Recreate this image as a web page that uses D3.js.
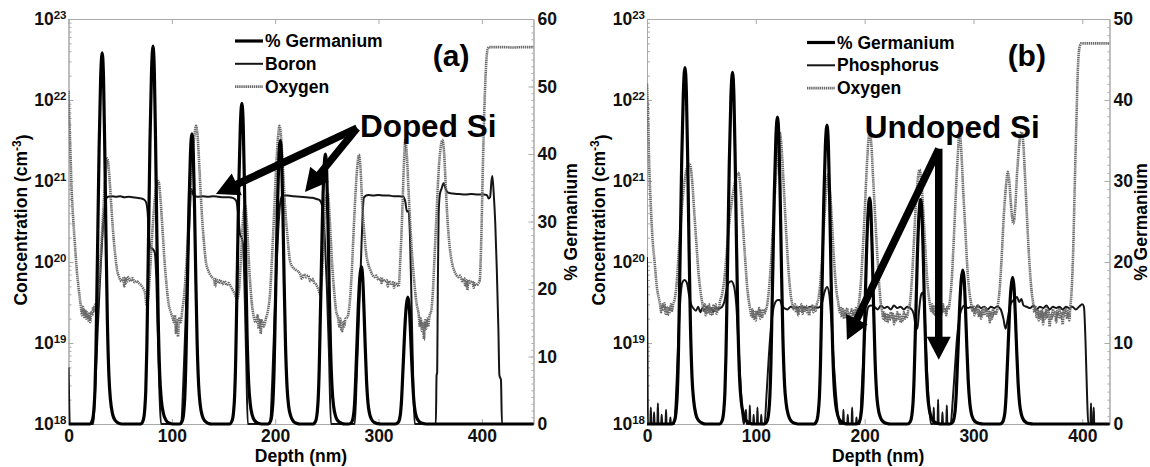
<!DOCTYPE html>
<html><head><meta charset="utf-8">
<script src="https://cdn.jsdelivr.net/npm/d3@7"></script>
<style>
body{margin:0;background:#fff}
svg{display:block}
text{font-family:"Liberation Sans",Arial,Helvetica,sans-serif;font-weight:bold}
</style></head>
<body><svg id="c" width="1150" height="467"></svg>
<script>
// ---------------- DATA ----------------
const X_TICKS=[0,100,200,300,400];
const DECADES=[1e18,1e19,1e20,1e21,1e22,1e23];
const PCT_TICKS_A=[0,10,20,30,40,50,60];
const PCT_TICKS_B=[0,10,20,30,40,50];
const LEGEND_A=["% Germanium","Boron","Oxygen"];
const LEGEND_B=["% Germanium","Phosphorus","Oxygen"];
const AXIS_TITLES=["Depth (nm)","Concentration (cm","-3",")","% Germanium"];

// (a) % Germanium [depth nm, %]
const GE_A=[[0,0],[20.6,0],[23.1,0.55],[24.6,2.2],[25.6,5],[26.6,11],[27.4,18.7],[28.4,28.6],[29.6,40.7],[31.1,51.2],[32.6,55],[33.9,51.2],[35.1,40.7],[36.3,27.5],[37.6,15.4],[39.1,7.2],[40.6,3.6],[42.6,1.5],[45.1,0.55],[48.6,0.1],[51.6,0],
[69.8,0],[72.3,0.56],[73.8,2.2],[74.8,5],[75.8,11.2],[76.6,19],[77.6,29],[78.8,41.4],[80.3,52],[81.8,56],[83.1,52],[84.3,41.4],[85.5,28],[86.8,15.7],[88.3,7.3],[89.8,3.6],[91.8,1.6],[94.3,0.56],[97.8,0.1],[100.8,0],
[107.5,0],[110,0.43],[111.5,1.7],[112.5,3.9],[113.5,8.6],[114.3,14.6],[115.3,22.4],[116.5,31.8],[118,40],[119.5,43],[120.8,40],[122,31.8],[123.2,21.5],[124.5,12],[126,5.6],[127.5,2.8],[129.5,1.2],[132,0.43],[135.5,0.09],[138.5,0],
[155.8,0],[158.3,0.48],[159.8,1.9],[160.8,4.3],[161.8,9.5],[162.6,16.2],[163.6,24.7],[164.8,35.2],[166.3,44.2],[167.8,47.5],[169.1,44.2],[170.3,35.2],[171.5,23.8],[172.8,13.3],[174.3,6.2],[175.8,3.1],[177.8,1.3],[180.3,0.48],[183.8,0.1],[186.8,0],
[193,0],[195.5,0.42],[197,1.7],[198,3.8],[199,8.4],[199.8,14.3],[200.8,21.8],[202,31.1],[203.5,39],[205,42],[206.3,39],[207.5,31.1],[208.7,21],[210,11.8],[211.5,5.5],[213,2.7],[215,1.2],[217.5,0.42],[221,0.08],[224,0],
[236.6,0],[239.1,0.4],[240.6,1.6],[241.6,3.6],[242.6,8],[243.4,13.6],[244.4,20.8],[245.6,29.6],[247.1,37.2],[248.6,40],[249.9,37.2],[251.1,29.6],[252.3,20],[253.6,11.2],[255.1,5.2],[256.6,2.6],[258.6,1.1],[261.1,0.4],[264.6,0.08],[267.6,0],
[271.4,0],[273.9,0.23],[275.4,0.93],[276.4,2.1],[277.4,4.7],[278.2,7.9],[279.2,12.1],[280.4,17.2],[281.9,21.7],[283.4,23.3],[284.7,21.7],[285.9,17.2],[287.1,11.7],[288.4,6.5],[289.9,3],[291.4,1.5],[293.4,0.65],[295.9,0.23],[299.4,0.05],[302.4,0],
[316.4,0],[318.9,0.19],[320.4,0.75],[321.4,1.7],[322.4,3.8],[323.2,6.4],[324.2,9.8],[325.4,13.9],[326.9,17.5],[328.4,18.8],[329.7,17.5],[330.9,13.9],[332.1,9.4],[333.4,5.3],[334.9,2.4],[336.4,1.2],[338.4,0.53],[340.9,0.19],[344.4,0.04],[347.4,0],[450,0]];

// (a) Boron [depth nm, cm^-3]
const BORON_A=[[0,5e18],[0.6,2e18],[1.2,1e18],[24,1e18],[26,3e18],[28,1.2e19],[30,4.5e19],[32,1.4e20],[34,3.5e20],[36,5.8e20],[38,6.4e20],[42,6.5e20],[46,6.4e20],[50,6.5e20],[54,6.3e20],[58,6.4e20],[62,6.3e20],[66,6.2e20],[70,6.1e20],[73,5.9e20],[75,5.5e20],[76.5,4.2e20],[78,2e20],[79.5,1.5e20],[81.5,1.45e20],[83.5,1.3e20],[85,6e19],[86.5,1.2e19],[88,2.5e18],[89.5,1e18],
[109,1e18],[111,3e18],[113,1.5e19],[115,8e19],[117,3e20],[118.8,8e20],[120.3,7e20],[121.5,6.6e20],[125,6.4e20],[130,6.5e20],[135,6.4e20],[140,6.5e20],[145,6.4e20],[150,6.3e20],[155,6.3e20],[160,6.1e20],[162.5,5.6e20],[164.5,3.5e20],[166,2.2e20],[167.5,2e20],[169,1.6e20],[170.5,4e19],[172,6e18],[173.5,1e18],
[195,1e18],[197,3e18],[199,1.5e19],[201,7e19],[203,2.5e20],[205,5.5e20],[207,6.6e20],[212,6.6e20],[218,6.5e20],[224,6.4e20],[230,6.3e20],[236,6.2e20],[240,6e20],[243,5.8e20],[245,5.2e20],[246.5,4e20],[248,2e20],[250,5e19],[252,8e18],[254,1e18],
[277,1e18],[279,4e18],[281,2e19],[283,1e20],[284.5,3.5e20],[286,6.3e20],[290,6.7e20],[295,6.6e20],[300,6.7e20],[305,6.6e20],[310,6.6e20],[315,6.5e20],[320,6.5e20],[324,6.4e20],[326,5.5e20],[327.5,4.2e20],[329,4.3e20],[330.5,2e20],[332,3e19],[333.5,4e18],[335,1e18],
[355.5,1e18],[356.2,4e18],[356.8,4.3e18],[357.4,5e19],[358.2,4e20],[359.5,7e20],[361,8e20],[363,9.4e20],[365,8e20],[367,7.2e20],[372,7e20],[378,6.9e20],[384,6.8e20],[390,6.9e20],[396,6.8e20],[402,6.8e20],[405,6.7e20],[406.5,6.1e20],[408,6.3e20],[409.3,1e21],[410.2,1.15e21],[411.5,7e20],[413,3e20],[414.5,8e19],[416,1.5e19],[417,4e18],[418.5,3.5e18],[419.5,1e18],[450,1e18]];

// (a) Oxygen [depth nm, cm^-3]
const OXYGEN_A=[[0,1.3e22],[1,5e21],[2,2e21],[3,8e20],[4.5,3.5e20],[6,1.8e20],[8,8e19],[10,4.5e19],[12,2.8e19],[13,2.2e19],[14,2.8e19],[15,2.1e19],[16,2.6e19],[17,2e19],[18,2.4e19],[19,1.9e19],[20,2.3e19],[21,1.8e19],[22,2.4e19],[23,2.2e19],[24,2.8e19],[25,2.4e19],[26,3e19],[27,2.8e19],[28.5,4e19],[30,7e19],[32,1.8e20],[34,5e20],[36,1.3e21],[37.5,1.9e21],[39,1.4e21],[41,6e20],[43,2.5e20],[45,1.3e20],[47,8e19],[49,6.5e19],[51,5.8e19],[53,6.3e19],[54,5e19],[55,6.5e19],[56,5.5e19],[58,6.5e19],[60,5.8e19],[62,6.3e19],[64,5.6e19],[66,5.8e19],[68,5.5e19],[70,5.2e19],[72,4.8e19],[74,4.2e19],[75.5,3e19],[77,3.5e19],[79,8e19],[81,2.2e20],[83,5e20],[85,8.5e20],[87,1e21],[89,6e20],[91,2.5e20],[93,1e20],[95,5e19],[97,3e19],[99,2.4e19],[101,2e19],[102,1.8e19],[103,2.2e19],[104,1.3e19],[105,1.9e19],[106,1.2e19],[107,2e19],[108.5,1.8e19],[110,2.5e19],[112,4e19],[114,9e19],[116,2.5e20],[118,8e20],[120,2e21],[122,3.8e21],[123.5,4.8e21],[125,3.5e21],[127,1.2e21],[129,4e20],[131,1.8e20],[133,1e20],[135,8e19],[137,7e19],[139,6.5e19],[141,6e19],[142,5e19],[143,6.2e19],[145,5.5e19],[147,6e19],[149,5.3e19],[151,5.8e19],[153,5.2e19],[155,5.5e19],[157,5e19],[159,4.5e19],[161,4e19],[163,3.5e19],[165,4.5e19],[167,1.2e20],[169,3.5e20],[171,5e20],[173,2.5e20],[175,8e19],[177,3.5e19],[179,2.2e19],[181,1.8e19],[183,2.2e19],[184,1.5e19],[185,2e19],[186,1.3e19],[187,1.9e19],[189,1.6e19],[191,2e19],[193,2.5e19],[195,4e19],[197,1.2e20],[199,4e20],[201,1.5e21],[202.8,3.5e21],[204.2,4.8e21],[205.7,3.5e21],[207.5,1.5e21],[209.5,5e20],[212,2e20],[214,1.1e20],[216,9e19],[220,8e19],[224,7.2e19],[226,6.2e19],[228,7e19],[230,6.5e19],[232,6.8e19],[234,5.8e19],[236,6.2e19],[238,5.5e19],[240,5.2e19],[242,4.5e19],[243.5,4e19],[245,6e19],[247,2e20],[249,6e20],[251,7e20],[253,3e20],[255,1e20],[257,4.5e19],[259,2.5e19],[261,2e19],[262,1.6e19],[263,2e19],[264,1.5e19],[265,1.4e19],[266,1.8e19],[267,1.6e19],[268,2e19],[270,2.1e19],[272,3e19],[274,7e19],[276,2.5e20],[278,8e20],[279.5,1.5e21],[281,2.1e21],[282.5,1.5e21],[284,6e20],[286,2.5e20],[288,1.3e20],[290,9.5e19],[292,8e19],[294,7e19],[296,6.5e19],[298,6.8e19],[300,6e19],[302,6.3e19],[303,5.5e19],[304,6.2e19],[306,5.8e19],[308,6e19],[309,5e19],[310,5.8e19],[312,5.4e19],[314,5.6e19],[315,4.8e19],[316,5.5e19],[318,5.3e19],[319.5,5e19],[321,1e20],[323,4e20],[324.5,1.5e21],[326,3.2e21],[327.5,2e21],[329,8e20],[331,2.5e20],[333,1e20],[335,5e19],[337,3e19],[339,2.2e19],[340,1.6e19],[341,2e19],[342,1.4e19],[343,1.8e19],[344,1.1e19],[345,1.9e19],[346,1.5e19],[347,2e19],[348,1.6e19],[349.5,2.2e19],[351,2.5e19],[352.5,4e19],[354,1e20],[356,3.5e20],[358,1.2e21],[360,2.5e21],[361.8,3.2e21],[363.5,2.2e21],[365,9e20],[367,3e20],[369,1.5e20],[371,1e20],[373,8e19],[375,7e19],[377,6.5e19],[379,6.8e19],[381,5.8e19],[383,6.3e19],[384,5e19],[385,6e19],[386,4.5e19],[387,6e19],[389,5.5e19],[391,5.8e19],[392,4.8e19],[393,5.5e19],[395,5.2e19],[396.5,5.4e19],[398,6e19],[399.5,2e20],[401,1.5e21],[402.5,8e21],[404,2.5e22],[405.5,4.2e22],[407,4.5e22],[420,4.5e22],[430,4.45e22],[440,4.5e22],[450,4.5e22]];

// (b) % Germanium [depth nm, %]
const GE_B=[[0,0],[22.9,0],[25.4,0.44],[26.9,1.8],[27.9,4],[28.9,8.8],[29.7,15],[30.7,22.9],[31.9,32.6],[33.4,40.9],[34.9,44],[36.2,40.9],[37.4,32.6],[38.6,22],[39.9,12.3],[41.4,5.7],[42.9,2.9],[44.9,1.2],[47.4,0.44],[50.9,0.09],[53.9,0],
[66.6,0],[69.1,0.43],[70.6,1.7],[71.6,3.9],[72.6,8.7],[73.4,14.8],[74.4,22.6],[75.6,32.1],[77.1,40.4],[78.6,43.4],[79.9,40.4],[81.1,32.1],[82.3,21.7],[83.6,12.2],[85.1,5.6],[86.6,2.8],[88.6,1.2],[91.1,0.43],[94.6,0.09],[97.6,0],
[107.9,0],[110.4,0.38],[111.9,1.5],[112.9,3.4],[113.9,7.6],[114.7,12.9],[115.7,19.7],[116.9,28],[118.4,35.2],[119.9,37.9],[121.2,35.2],[122.4,28],[123.6,19],[124.9,10.6],[126.4,4.9],[127.9,2.5],[129.9,1.1],[132.4,0.38],[135.9,0.08],[138.9,0],
[153.4,0],[155.9,0.37],[157.4,1.5],[158.4,3.3],[159.4,7.4],[160.2,12.5],[161.2,19.2],[162.4,27.3],[163.9,34.3],[165.4,36.9],[166.7,34.3],[167.9,27.3],[169.1,18.5],[170.4,10.3],[171.9,4.8],[173.4,2.4],[175.4,1],[177.9,0.37],[181.4,0.07],[184.4,0],
[192.6,0],[195.1,0.28],[196.6,1.1],[197.6,2.5],[198.6,5.6],[199.4,9.5],[200.4,14.5],[201.6,20.6],[203.1,25.9],[204.6,27.9],[205.9,25.9],[207.1,20.6],[208.3,14],[209.6,7.8],[211.1,3.6],[212.6,1.8],[214.6,0.78],[217.1,0.28],[220.6,0.06],[223.6,0],
[239.4,0],[241.9,0.28],[243.4,1.1],[244.4,2.5],[245.4,5.5],[246.2,9.4],[247.2,14.4],[248.4,20.5],[249.9,25.8],[251.4,27.7],[252.7,25.8],[253.9,20.5],[255.1,13.9],[256.4,7.8],[257.9,3.6],[259.4,1.8],[261.4,0.78],[263.9,0.28],[267.4,0.06],[270.4,0],
[278.2,0],[280.7,0.19],[282.2,0.76],[283.2,1.7],[284.2,3.8],[285,6.5],[286,9.9],[287.2,14.1],[288.7,17.7],[290.2,19],[291.5,17.7],[292.7,14.1],[293.9,9.5],[295.2,5.3],[296.7,2.5],[298.2,1.2],[300.2,0.53],[302.7,0.19],[306.2,0.04],[309.2,0],
[324,0],[326.5,0.18],[328,0.72],[329,1.6],[330,3.6],[330.8,6.2],[331.8,9.4],[333,13.4],[334.5,16.8],[336,18.1],[337.3,16.8],[338.5,13.4],[339.7,9.1],[341,5.1],[342.5,2.4],[344,1.2],[346,0.51],[348.5,0.18],[352,0.04],[355,0],[425,0]];

// (b) Phosphorus [depth nm, cm^-3]
const PHOS_B=[[0,1.15e20],[0.4,1e19],[0.8,1e18],[3,1e18],[3.5,1.6e18],[4,1e18],[6,1e18],[6.5,1.4e18],[7,1e18],[9.5,1e18],[10,1.8e18],[10.5,1e18],[13,1e18],[13.5,1.3e18],[14,1e18],[17,1e18],[17.5,1.5e18],[18,1e18],[21,1e18],[21.5,1.2e18],[22,1e18],[25,1e18],[26.5,2e18],[28,6e18],[29.5,1.8e19],[31,4e19],[32.5,5.6e19],[34.5,6e19],[36.5,5.6e19],[38.5,4e19],[40.5,3e19],[42.5,2.7e19],[45,2.5e19],[47,2.8e19],[49,2.4e19],[51,2.7e19],[53,2.5e19],[55,2.8e19],[57,2.5e19],[59,2.7e19],[61,2.4e19],[63,2.8e19],[65,2.6e19],[67,2.7e19],[69,2.8e19],[71,3.2e19],[73,4.5e19],[75,5.5e19],[77.5,5.8e19],[80,5e19],[82,3e19],[84,1e19],[86,3e18],[88,1.2e18],[89,1e18],[91,1.5e18],[91.5,1e18],[94,1e18],[94.5,1.7e18],[95,1e18],[97.5,1e18],[98,1.3e18],[98.5,1e18],[101,1e18],[101.5,1.6e18],[102,1e18],[104.5,1e18],[105,1.3e18],[105.5,1e18],[108,1e18],[110,2.5e18],[112,7e18],[114,1.6e19],[116,2.6e19],[118,3.2e19],[120,3.4e19],[122,3.4e19],[124,2.9e19],[126,2.7e19],[129,2.6e19],[132,2.8e19],[135,2.7e19],[138,2.7e19],[141,2.8e19],[144,2.7e19],[147,2.7e19],[150,2.8e19],[153,2.7e19],[156,2.7e19],[159,2.8e19],[161,3.2e19],[163,4.2e19],[165.5,4.9e19],[167.5,4e19],[169.5,1.8e19],[171.5,6e18],[173.5,2.5e18],[175.5,1.3e18],[177,1e18],[180,1e18],[180.5,1.5e18],[181,1e18],[184,1e18],[184.5,1.3e18],[185,1e18],[188,1e18],[188.5,1.6e18],[189,1e18],[192,1e18],[192.5,1.2e18],[193,1e18],[195.5,1e18],[197.5,3e18],[199.5,9e18],[201.5,2e19],[203.5,2.8e19],[206,2.9e19],[209,2.8e19],[212,2.6e19],[215,2.9e19],[218,2.7e19],[221,2.8e19],[224,2.6e19],[227,2.9e19],[230,2.7e19],[233,2.8e19],[236,2.6e19],[239,2.8e19],[242,2.7e19],[245,2.3e19],[247,1.6e19],[248.5,1.5e19],[250,2.5e19],[252,4e19],[253.5,4.2e19],[255,2.5e19],[256.5,8e18],[258,3e18],[259.5,1.5e18],[261,1e18],[263,1e18],[263.5,1.6e18],[264,1e18],[267,1e18],[267.5,2e18],[268,1e18],[271,1e18],[271.5,1.4e18],[272,1e18],[275,1e18],[275.5,1.7e18],[276,1e18],[279,1e18],[281,2e18],[283,5e18],[285,1.2e19],[287,2e19],[289,2.6e19],[292,2.9e19],[295,2.7e19],[298,2.8e19],[301,2.6e19],[304,2.9e19],[307,2.7e19],[310,2.8e19],[313,2.6e19],[316,2.8e19],[319,2.7e19],[322,2.8e19],[325,2.6e19],[327.5,2e19],[329.5,1.5e19],[331.5,2e19],[334,3e19],[337,3.4e19],[340,3.7e19],[342,3.2e19],[344,3.5e19],[346,2.9e19],[349,2.8e19],[352,2.7e19],[355,2.9e19],[358,2.6e19],[361,2.8e19],[364,2.7e19],[367,2.9e19],[370,2.6e19],[373,2.8e19],[376,2.7e19],[379,2.8e19],[382,2.6e19],[385,2.8e19],[388,2.7e19],[391,2.8e19],[394,2.6e19],[397,2.8e19],[400,3e19],[401.5,2.8e19],[403,1e19],[404.5,2e18],[405.5,1e18],[407.5,1e18],[408,1.8e18],[408.5,1e18],[410,1e18],[410.5,1.6e18],[411,1e18],[425,1e18]];

// (b) Oxygen [depth nm, cm^-3]
const OXYGEN_B=[[0,1.6e22],[1,6e21],[2,1.6e21],[3.5,5e20],[5,2e20],[7,1e20],[9,5e19],[11,3.5e19],[12,3e19],[13,2.4e19],[14,3e19],[15,2.6e19],[16,3.1e19],[17,2.3e19],[18,2.8e19],[19,2.2e19],[20,2.7e19],[21,2.4e19],[22,3e19],[23,2.5e19],[24,3e19],[25.5,3.5e19],[27,5e19],[29,1.2e20],[31,3e20],[33,6.5e20],[35,1.1e21],[37,1.5e21],[39.4,1.6e21],[41.5,1e21],[43.5,4e20],[45.5,1.6e20],[47.5,7e19],[49.5,4e19],[51,3e19],[52,2.5e19],[53,3e19],[54,2.2e19],[55,2.8e19],[56,2.4e19],[57,3e19],[58,2.3e19],[59,2.7e19],[60,2.2e19],[61,2.9e19],[62,2.5e19],[63,3e19],[64,2.3e19],[65,2.7e19],[66,2.6e19],[67,3.2e19],[69,4e19],[71,6e19],[73,1.2e20],[75,2.5e20],[77,4.5e20],[79,7e20],[81,1e21],[83.8,1.26e21],[86,8e20],[88,3e20],[90,1.2e20],[92,5e19],[94,3e19],[95,2.5e19],[96,2.1e19],[97,2.6e19],[98,2e19],[99,2.4e19],[100,1.9e19],[101,2.5e19],[102,2.2e19],[103,2.7e19],[104,2e19],[105,2.5e19],[106,2.1e19],[107,2.6e19],[108,2.3e19],[109,2.5e19],[110.5,3e19],[112,4.5e19],[114,1e20],[116,3e20],[118,9e20],[120,2.2e21],[122,4e21],[124,2.2e21],[126,7e20],[128,2.2e20],[130,8e19],[132,4e19],[133.5,3e19],[135,2.6e19],[136,3e19],[137,2.4e19],[138,2.8e19],[139,2.2e19],[140,2.7e19],[141,2.5e19],[142,3e19],[143,2.3e19],[144,2.8e19],[145,2.5e19],[146,2.9e19],[147,2.4e19],[148,2.8e19],[149,2.2e19],[150,2.7e19],[151,2.5e19],[152,2.9e19],[153,2.4e19],[154,2.8e19],[155,2.5e19],[156,3e19],[157.5,3.5e19],[159,5e19],[161,1.2e20],[163,3.5e20],[164.8,8e20],[166.4,1.2e21],[168,8e20],[170,3e20],[172,1e20],[174,4.5e19],[176,3e19],[177,2.4e19],[178,2.8e19],[179,2.1e19],[180,2.6e19],[181,2e19],[182,2.5e19],[183,2.1e19],[184,2.7e19],[185,2e19],[186,2.4e19],[187,2.2e19],[188,2.6e19],[189,2e19],[190,2.5e19],[191,2.2e19],[192,2.7e19],[193,2.4e19],[194.5,3e19],[196,4.5e19],[198,1.2e20],[200,4e20],[202,1.5e21],[203.5,3.2e21],[204.6,3.9e21],[206,3e21],[207.5,1.3e21],[209.5,4e20],[211.5,1.3e20],[213.5,5e19],[215,3e19],[216,2.5e19],[217,2e19],[218,2.4e19],[219,1.9e19],[220,2.3e19],[221,1.8e19],[222,2.2e19],[223,1.9e19],[224,2.4e19],[225,2e19],[226,2.3e19],[227,1.7e19],[228,2.2e19],[229,1.9e19],[230,2.4e19],[231,2e19],[232,2.3e19],[233,1.8e19],[234,2.1e19],[235,1.9e19],[236,2.4e19],[237,2e19],[238,2.3e19],[239,2.1e19],[240,2.5e19],[241.5,3e19],[243,5e19],[245,1.5e20],[247,5e20],[249,1.1e21],[250.5,1.38e21],[252,1e21],[254,4e20],[256,1.3e20],[258,5e19],[260,3e19],[261,2.5e19],[262,3e19],[263,2.3e19],[264,2.8e19],[265,2.2e19],[266,2.9e19],[267,2.4e19],[268,2.8e19],[269,2.1e19],[270,2.6e19],[271,2.3e19],[272,3e19],[273,2.4e19],[274,2.7e19],[275,2.2e19],[276,2.8e19],[277,2.6e19],[278.5,3.5e19],[280,6e19],[282,2e20],[284,8e20],[285.7,2.2e21],[287.2,4.2e21],[288.7,2.5e21],[290.5,8e20],[292.5,2.5e20],[294.5,8e19],[296.5,4e19],[298,3e19],[299,2.5e19],[300,2.9e19],[301,2.2e19],[302,2.7e19],[303,2.4e19],[304,2.9e19],[305,2.1e19],[306,2.5e19],[307,2e19],[308,2.6e19],[309,2.2e19],[310,2.8e19],[311,2.3e19],[312,2.6e19],[313,2.1e19],[314,2.5e19],[315,1.8e19],[316,2.4e19],[317,2e19],[318,2.6e19],[319,2.2e19],[320,2.5e19],[321,2.3e19],[322.5,3e19],[324,4.5e19],[326,1.2e20],[328,4e20],[330,9e20],[331.5,1.3e21],[333,9.5e20],[334.5,5e20],[336.7,3e20],[338.5,5e20],[340,1.2e21],[341.7,2.5e21],[343,3.6e21],[344.3,4e21],[345.7,3e21],[347.3,1.2e21],[349,4e20],[351,1.2e20],[353,5e19],[355,3e19],[356,2.4e19],[357,2.8e19],[358,2.1e19],[359,2.6e19],[360,1.9e19],[361,2.5e19],[362,2e19],[363,2.6e19],[364,1.7e19],[365,2.4e19],[366,2e19],[367,2.7e19],[368,2.1e19],[369,2.5e19],[370,1.6e19],[371,2.3e19],[372,2e19],[373,2.6e19],[374,2.2e19],[375,2.4e19],[376,1.8e19],[377,2.5e19],[378,2.1e19],[379,2.7e19],[380,2e19],[381,2.4e19],[382,1.7e19],[383,2.5e19],[384,2.2e19],[385,2.6e19],[386,2e19],[387,2.5e19],[388,1.9e19],[389,2.8e19],[390,4e19],[391.5,1.2e20],[393,8e20],[394.5,5e21],[396,2.5e22],[397.5,4.5e22],[399,5e22],[410,5e22],[425,5e22]];

// annotations in data coordinates [depth nm, concentration]
const CALLOUT_A_TEXT="Doped Si", CALLOUT_A_AT=[282,3.5e21], CALLOUT_A_FROM=[279.2,4.5e21], CALLOUT_A_TIPS=[[142.7,6.9e20],[228.9,7.3e20]];
const CALLOUT_B_TEXT="Undoped Si", CALLOUT_B_AT=[200.2,3.4e21], CALLOUT_B_FROM=[268.1,2.5e21], CALLOUT_B_TIPS=[[183.7,1.09e19],[268.1,6.2e18]];
const PANEL_LABELS=["(a)","(b)"], PANEL_LABEL_AT=[[370.3,2.6e22],[349,2.6e22]];

// ---------------- DRAW ----------------
const svg=d3.select("#c");
const AXIS_COLOR="#a9a9a9";
const FS="17.5px";

function arrow(g,sx,sy,tx,ty){
  const dx=tx-sx,dy=ty-sy,L=Math.hypot(dx,dy),ux=dx/L,uy=dy/L,nx=-uy,ny=ux;
  const hl=23,hw=12,sw=7.5;
  const bx=tx-ux*hl,by=ty-uy*hl;
  g.append("line").attr("x1",sx).attr("y1",sy).attr("x2",bx+ux).attr("y2",by+uy)
    .attr("stroke","#000").attr("stroke-width",sw);
  g.append("path").attr("d",`M${tx},${ty}L${bx+nx*hw},${by+ny*hw}L${bx-nx*hw},${by-ny*hw}Z`).attr("fill","#000");
}

function styleAxis(sel){
  sel.select(".domain").attr("stroke",AXIS_COLOR);
  sel.selectAll(".tick line").attr("stroke",AXIS_COLOR);
  sel.selectAll(".tick text").attr("fill","#111").style("font-size",FS).style("font-weight","bold")
     .style("font-family",'"Liberation Sans",Arial,sans-serif');
}

function panel(cfg){
  const x=d3.scaleLinear().domain([0,cfg.xMax]).range([cfg.left,cfg.right]);
  const yL=d3.scaleLog().domain([1e18,1e23]).range([cfg.bottom,cfg.top]).clamp(true);
  const yR=d3.scaleLinear().domain([0,cfg.pctMax]).range([cfg.bottom,cfg.top]);
  const g=svg.append("g");
  const cid="clip"+cfg.id;
  svg.append("clipPath").attr("id",cid).append("rect")
    .attr("x",cfg.left).attr("y",cfg.top-3).attr("width",cfg.right-cfg.left+1).attr("height",cfg.bottom-cfg.top+5);

  const bAx=g.append("g").attr("transform",`translate(0,${cfg.bottom})`)
    .call(d3.axisBottom(x).tickValues(X_TICKS).tickSizeInner(-5).tickSizeOuter(0).tickPadding(6));
  styleAxis(bAx);
  const tAx=g.append("g").attr("transform",`translate(0,${cfg.top})`)
    .call(d3.axisTop(x).tickValues(X_TICKS).tickSizeInner(-5).tickSizeOuter(0).tickFormat(""));
  styleAxis(tAx);
  const minors=[];
  DECADES.slice(0,-1).forEach(d=>{for(let k=2;k<10;k++)minors.push(d*k);});
  const lmAx=g.append("g").attr("transform",`translate(${cfg.left},0)`)
    .call(d3.axisLeft(yL).tickValues(minors).tickSizeInner(-3).tickSizeOuter(0).tickFormat(""));
  styleAxis(lmAx);
  const lAx=g.append("g").attr("transform",`translate(${cfg.left},0)`)
    .call(d3.axisLeft(yL).tickValues(DECADES).tickSizeInner(-5).tickSizeOuter(0).tickPadding(2).tickFormat(()=>""));
  styleAxis(lAx);
  lAx.selectAll(".tick text").each(function(d){
    const t=d3.select(this);
    t.append("tspan").text("10");
    t.append("tspan").attr("dy","-0.55em").style("font-size","11.5px").text(Math.round(Math.log10(d)));
  });
  const rmAx=g.append("g").attr("transform",`translate(${cfg.right},0)`)
    .call(d3.axisRight(yR).tickValues(d3.range(0,cfg.pctMax+1,1)).tickSizeInner(-2).tickSizeOuter(0).tickFormat(""));
  styleAxis(rmAx);
  const rAx=g.append("g").attr("transform",`translate(${cfg.right},0)`)
    .call(d3.axisRight(yR).tickValues(cfg.pctTicks).tickSizeInner(-5).tickSizeOuter(0).tickPadding(4));
  styleAxis(rAx);

  const plot=g.append("g").attr("clip-path",`url(#${cid})`);
  const lineL=d3.line().x(d=>x(d[0])).y(d=>yL(d[1])).curve(d3.curveMonotoneX);
  const lineR=d3.line().x(d=>x(d[0])).y(d=>yR(d[1])).curve(d3.curveMonotoneX);
  plot.append("path").datum(cfg.dop).attr("d",lineL).attr("fill","none").attr("stroke","#151515").attr("stroke-width",2).attr("stroke-linejoin","round");
  plot.append("path").datum(cfg.ox).attr("d",lineL).attr("fill","none").attr("stroke","#6a6a6a").attr("stroke-width",2.6).attr("stroke-dasharray","1.4,0.7");
  plot.append("path").datum(cfg.ge).attr("d",lineR).attr("fill","none").attr("stroke","#000").attr("stroke-width",3.2).attr("stroke-linejoin","round");

  g.append("text").attr("x",(cfg.left+cfg.right)/2).attr("y",462).attr("text-anchor","middle")
    .style("font-size",FS).text(AXIS_TITLES[0]);
  const lt=g.append("text").attr("transform",`translate(${cfg.left-42},220) rotate(-90)`).attr("text-anchor","middle").style("font-size",FS);
  lt.append("tspan").text(AXIS_TITLES[1]);
  lt.append("tspan").attr("dy","-0.5em").style("font-size","12px").text(AXIS_TITLES[2]);
  lt.append("tspan").attr("dy","0.5em").text(AXIS_TITLES[3]);
  g.append("text").attr("transform",`translate(${cfg.rightTitleX},222) rotate(-90)`).attr("text-anchor","middle")
    .style("font-size",FS).text(AXIS_TITLES[4]);

  const lg=g.append("g");
  const styles=[{s:"#000",w:3.2,d:null},{s:"#151515",w:2,d:null},{s:"#6a6a6a",w:2.6,d:"1.4,0.7"}];
  cfg.legend.forEach((name,i)=>{
    const yy=cfg.legendY+i*22.8;
    lg.append("line").attr("x1",cfg.legendX).attr("x2",cfg.legendX+28).attr("y1",yy).attr("y2",yy)
      .attr("stroke",styles[i].s).attr("stroke-width",styles[i].w).attr("stroke-dasharray",styles[i].d);
    lg.append("text").attr("x",cfg.legendX+30).attr("y",yy+6).style("font-size",FS).text(name);
  });

  g.append("text").attr("x",x(cfg.label[1][0])).attr("y",yL(cfg.label[1][1])).attr("text-anchor","middle")
    .style("font-size","30px").text(cfg.label[0]);

  const ca=g.append("g");
  cfg.tips.forEach(t=>arrow(ca,x(cfg.from[0]),yL(cfg.from[1]),x(t[0]),yL(t[1])));
  ca.append("text").attr("x",x(cfg.at[0])).attr("y",yL(cfg.at[1])).style("font-size","31.5px").text(cfg.text);
}

panel({id:"a",left:68.5,right:533.5,top:19,bottom:424,xMax:450,pctMax:60,pctTicks:PCT_TICKS_A,
  ge:GE_A,dop:BORON_A,ox:OXYGEN_A,legend:LEGEND_A,legendX:235,legendY:41,rightTitleX:577,
  label:[PANEL_LABELS[0],PANEL_LABEL_AT[0]],text:CALLOUT_A_TEXT,at:CALLOUT_A_AT,from:CALLOUT_A_FROM,tips:CALLOUT_A_TIPS});
panel({id:"b",left:647,right:1109.5,top:19,bottom:424,xMax:425,pctMax:50,pctTicks:PCT_TICKS_B,
  ge:GE_B,dop:PHOS_B,ox:OXYGEN_B,legend:LEGEND_B,legendX:807,legendY:42.5,rightTitleX:1147,
  label:[PANEL_LABELS[1],PANEL_LABEL_AT[1]],text:CALLOUT_B_TEXT,at:CALLOUT_B_AT,from:CALLOUT_B_FROM,tips:CALLOUT_B_TIPS});
</script></body></html>
